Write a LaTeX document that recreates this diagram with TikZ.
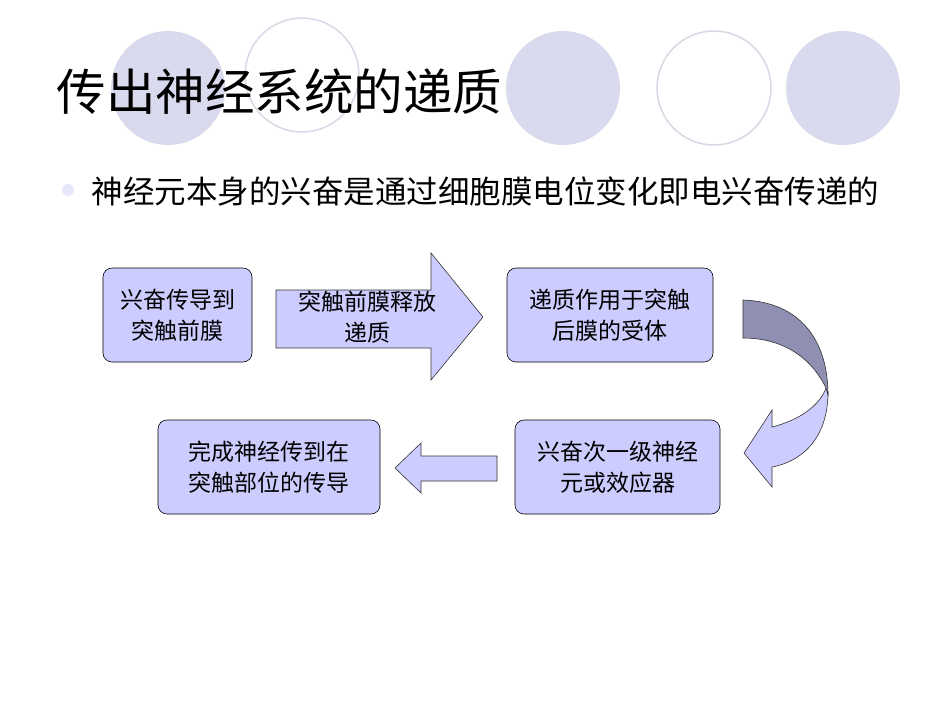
\documentclass[tikz,border=0pt]{standalone}
\usepackage{fontspec}
\newfontfamily\cjk{Noto Sans CJK SC}
\definecolor{boxfill}{HTML}{CCCCFF}
\definecolor{circfill}{HTML}{DADAEE}
\definecolor{circline}{HTML}{D8D8E6}
\definecolor{darkarr}{HTML}{8F8FB4}
\tikzset{
  fbox/.style={draw=black, line width=0.6pt, fill=boxfill, rounded corners=9pt},
  boxtext/.style={font=\cjk\fontsize{23}{31}\selectfont, align=center},
  arr/.style={draw=black!80, line width=0.6pt, fill=boxfill, line join=miter},
  dot/.style={fill=circfill},
  ring/.style={draw=circline, line width=1.5pt, fill=white}
}
\begin{document}
\begin{tikzpicture}[x=1pt,y=-1pt]
\useasboundingbox (0,0) rectangle (950,713);
\fill[white] (0,0) rectangle (950,713);
% decorative circles
\fill[dot] (168,88) circle (57);
\draw[ring] (302,75) circle (57);
\fill[dot] (563,88) circle (57);
\draw[ring] (714,88) circle (57);
\fill[dot] (843,88) circle (57);
% title
\node[anchor=west, font=\cjk\fontsize{49.5}{52}\selectfont] (title) at (53,92) {传出神经系统的递质};
% bullet
\fill[circfill!80!blue!30] (68,190) circle (6);
\node[anchor=west, font=\cjk\fontsize{31.5}{34}\selectfont] (bul) at (88,192) {神经元本身的兴奋是通过细胞膜电位变化即电兴奋传递的};
% boxes
\draw[fbox] (103,268) rectangle (252,362);
\node[boxtext] (b1) at (177.5,315) {兴奋传导到\\突触前膜};
\draw[fbox] (507,268) rectangle (713,362);
\node[boxtext] (b3) at (610,315) {递质作用于突触\\后膜的受体};
\draw[fbox] (515,420) rectangle (720,514);
\node[boxtext] (b4) at (617.5,467) {兴奋次一级神经\\元或效应器};
\draw[fbox] (158,420) rectangle (380,514);
\node[boxtext] (b5) at (269,467) {完成神经传到在\\突触部位的传导};
% right block arrow
\draw[arr] (276,290) -- (431,290) -- (431,253) -- (483,317) -- (431,380) -- (431,348) -- (276,348) -- cycle;
\node[boxtext] (b2) at (367,317) {突触前膜释放\\递质};
% left block arrow
\draw[arr] (497,456) -- (421,456) -- (421,443) -- (395,468) -- (421,493) -- (421,481) -- (497,481) -- cycle;
% curved arrow
\draw[arr] (828,392) .. controls (828,440) and (800,462) .. (772,467) -- (772,487) -- (744,453) -- (772,410) -- (772,427) .. controls (800,420) and (820,405) .. (826,388) -- cycle;
\draw[arr, fill=darkarr] (743,300) .. controls (800,302) and (828,340) .. (828,395) -- (826,388) .. controls (810,355) and (780,338) .. (743,338) -- cycle;
\end{tikzpicture}
\end{document}
